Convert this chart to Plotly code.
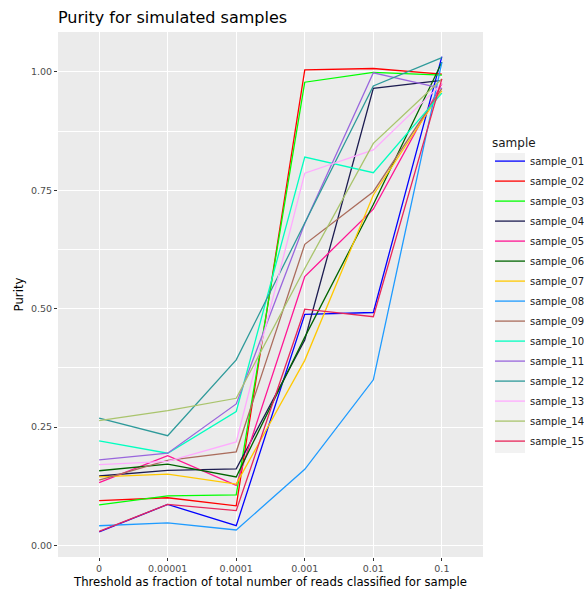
import plotly.graph_objects as go

# Thresholds (fraction of total reads classified) used as discrete x categories
thresholds = ["0", "0.00001", "0.0001", "0.001", "0.01", "0.1"]

sample_01 = [0.029, 0.087, 0.042, 0.488, 0.492, 1.032]
sample_02 = [0.095, 0.101, 0.084, 1.004, 1.007, 0.995]
sample_03 = [0.086, 0.105, 0.107, 0.978, 0.999, 0.993]
sample_04 = [0.147, 0.159, 0.162, 0.434, 0.965, 0.982]
sample_05 = [0.133, 0.190, 0.127, 0.568, 0.710, 0.975]
sample_06 = [0.158, 0.172, 0.145, 0.440, 0.720, 1.020]
sample_07 = [0.145, 0.151, 0.130, 0.391, 0.740, 0.960]
sample_08 = [0.042, 0.048, 0.033, 0.161, 0.350, 1.020]
sample_09 = [0.138, 0.180, 0.198, 0.636, 0.747, 0.965]
sample_10 = [0.221, 0.195, 0.283, 0.820, 0.787, 0.955]
sample_11 = [0.181, 0.195, 0.299, 0.680, 0.998, 0.965]
sample_12 = [0.269, 0.232, 0.392, 0.680, 0.970, 1.030]
sample_13 = [0.171, 0.178, 0.219, 0.786, 0.835, 0.975]
sample_14 = [0.264, 0.285, 0.311, 0.585, 0.849, 0.985]
sample_15 = [0.030, 0.087, 0.074, 0.499, 0.483, 0.985]

sample_names = [f"sample_{i:02d}" for i in range(1, 16)]
sample_values = [sample_01, sample_02, sample_03, sample_04, sample_05,
                 sample_06, sample_07, sample_08, sample_09, sample_10,
                 sample_11, sample_12, sample_13, sample_14, sample_15]
sample_colors = ["#0000ff", "#ff0000", "#00ff00", "#1c1c50", "#ff1493",
                 "#006400", "#ffc800", "#1e9bff", "#aa6c5c", "#00ffc0",
                 "#9966dd", "#2e9a9a", "#ffaaff", "#a9c46c", "#e8265a"]

FONT = "DejaVu Sans"
W, H = 584, 589
ML, MR, MT, MB = 58, 101, 32, 32
PW, PH = W - ML - MR, H - MT - MB

fig = go.Figure()
for name, vals, col in zip(sample_names, sample_values, sample_colors):
    fig.add_trace(go.Scatter(
        x=list(range(len(thresholds))), y=vals, mode="lines", name=name,
        legendgroup=name,
        line=dict(color=col, width=1.3),
    ))


def px_to_paper_x(px):
    return (px - ML) / PW


def px_to_paper_y(py):
    return (H - MB - py) / PH


# grey key column behind the legend swatches
fig.add_shape(type="rect", xref="paper", yref="paper",
              x0=px_to_paper_x(495), x1=px_to_paper_x(525),
              y0=px_to_paper_y(453), y1=px_to_paper_y(153),
              fillcolor="#f2f2f2", line=dict(width=0), layer="below")

fig.update_layout(
    width=W, height=H,
    margin=dict(l=ML, r=MR, t=MT, b=MB, autoexpand=False),
    paper_bgcolor="white",
    plot_bgcolor="#ebebeb",
    font=dict(family=FONT, color="black"),
    title=dict(text="Purity for simulated samples", x=ML / W, xanchor="left",
               xref="container", yref="container", y=1 - 17 / H, yanchor="middle",
               font=dict(size=16, family=FONT, color="black")),
    showlegend=True,
    legend=dict(
        title=dict(text="sample", font=dict(size=12, family=FONT)),
        xref="container", yref="container",
        x=490 / W, xanchor="left",
        y=1 - 131 / H, yanchor="top",
        font=dict(size=10, family=FONT, color="#1a1a1a"),
        bgcolor="rgba(0,0,0,0)", tracegroupgap=1, itemwidth=30,
        maxheight=440,
    ),
    xaxis=dict(
        tickmode="array", tickvals=list(range(len(thresholds))), ticktext=thresholds,
        range=[-0.6, len(thresholds) - 0.4], automargin=False,
        showgrid=True, gridcolor="white", gridwidth=1.1, zeroline=False,
        ticks="outside", ticklen=3, tickcolor="#333333", tickwidth=1,
        tickfont=dict(size=9.5, color="#4d4d4d", family=FONT),
        title=dict(text="Threshold as fraction of total number of reads classified for sample",
                   font=dict(size=11.7, family=FONT), standoff=4),
    ),
    yaxis=dict(
        range=[-0.024, 1.084], automargin=False,
        tickmode="array", tickvals=[0, 0.25, 0.5, 0.75, 1.0],
        ticktext=["0.00", "0.25", "0.50", "0.75", "1.00"],
        showgrid=True, gridcolor="white", gridwidth=1.1, zeroline=False,
        minor=dict(tickmode="array", tickvals=[0.125, 0.375, 0.625, 0.875],
                   showgrid=True, gridcolor="white", gridwidth=0.5, ticks=""),
        ticks="outside", ticklen=3, tickcolor="#333333", tickwidth=1,
        tickfont=dict(size=9.5, color="#4d4d4d", family=FONT),
        title=dict(text="Purity", font=dict(size=11.7, family=FONT), standoff=4),
    ),
)

fig.write_html("out.html")
